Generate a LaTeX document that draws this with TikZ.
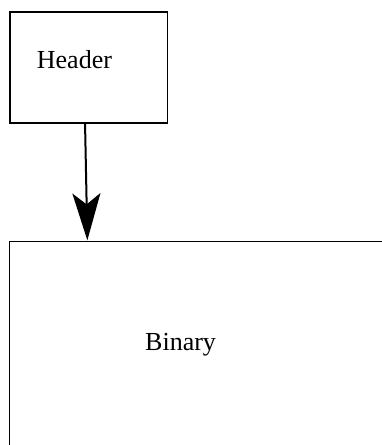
\documentclass[tikz,border=0pt]{standalone}
\usepackage{fontspec}
\setmainfont{Liberation Serif}
\usetikzlibrary{arrows.meta}
\begin{document}
\begin{tikzpicture}[x=1pt,y=1pt,
  boxstyle/.style={draw=black, line width=1.3pt, fill=none, inner sep=0pt},
  labelstyle/.style={anchor=base west, inner sep=0pt, font=\fontsize{26}{30}\selectfont},
  arrowstyle/.style={line width=2pt, -{Stealth[length=47pt,width=28pt,inset=11pt]}}]
\useasboundingbox (0,0) rectangle (382,445);
\clip (0,0) rectangle (382,445);
\node[boxstyle, minimum width=157.7pt, minimum height=111pt] (header) at (88.85,377.5) {};
\node[labelstyle] (headertext) at (36.7,376.7) {Header};
\node[boxstyle, minimum width=410.3pt, minimum height=228.5pt] (binary) at (214.85,89.25) {};
\node[labelstyle] (binarytext) at (145,94) {Binary};
\draw[arrowstyle] ([xshift=-3.8pt]header.south) -- ([xshift=-127.5pt,yshift=0.5pt]binary.north);
\end{tikzpicture}
\end{document}
